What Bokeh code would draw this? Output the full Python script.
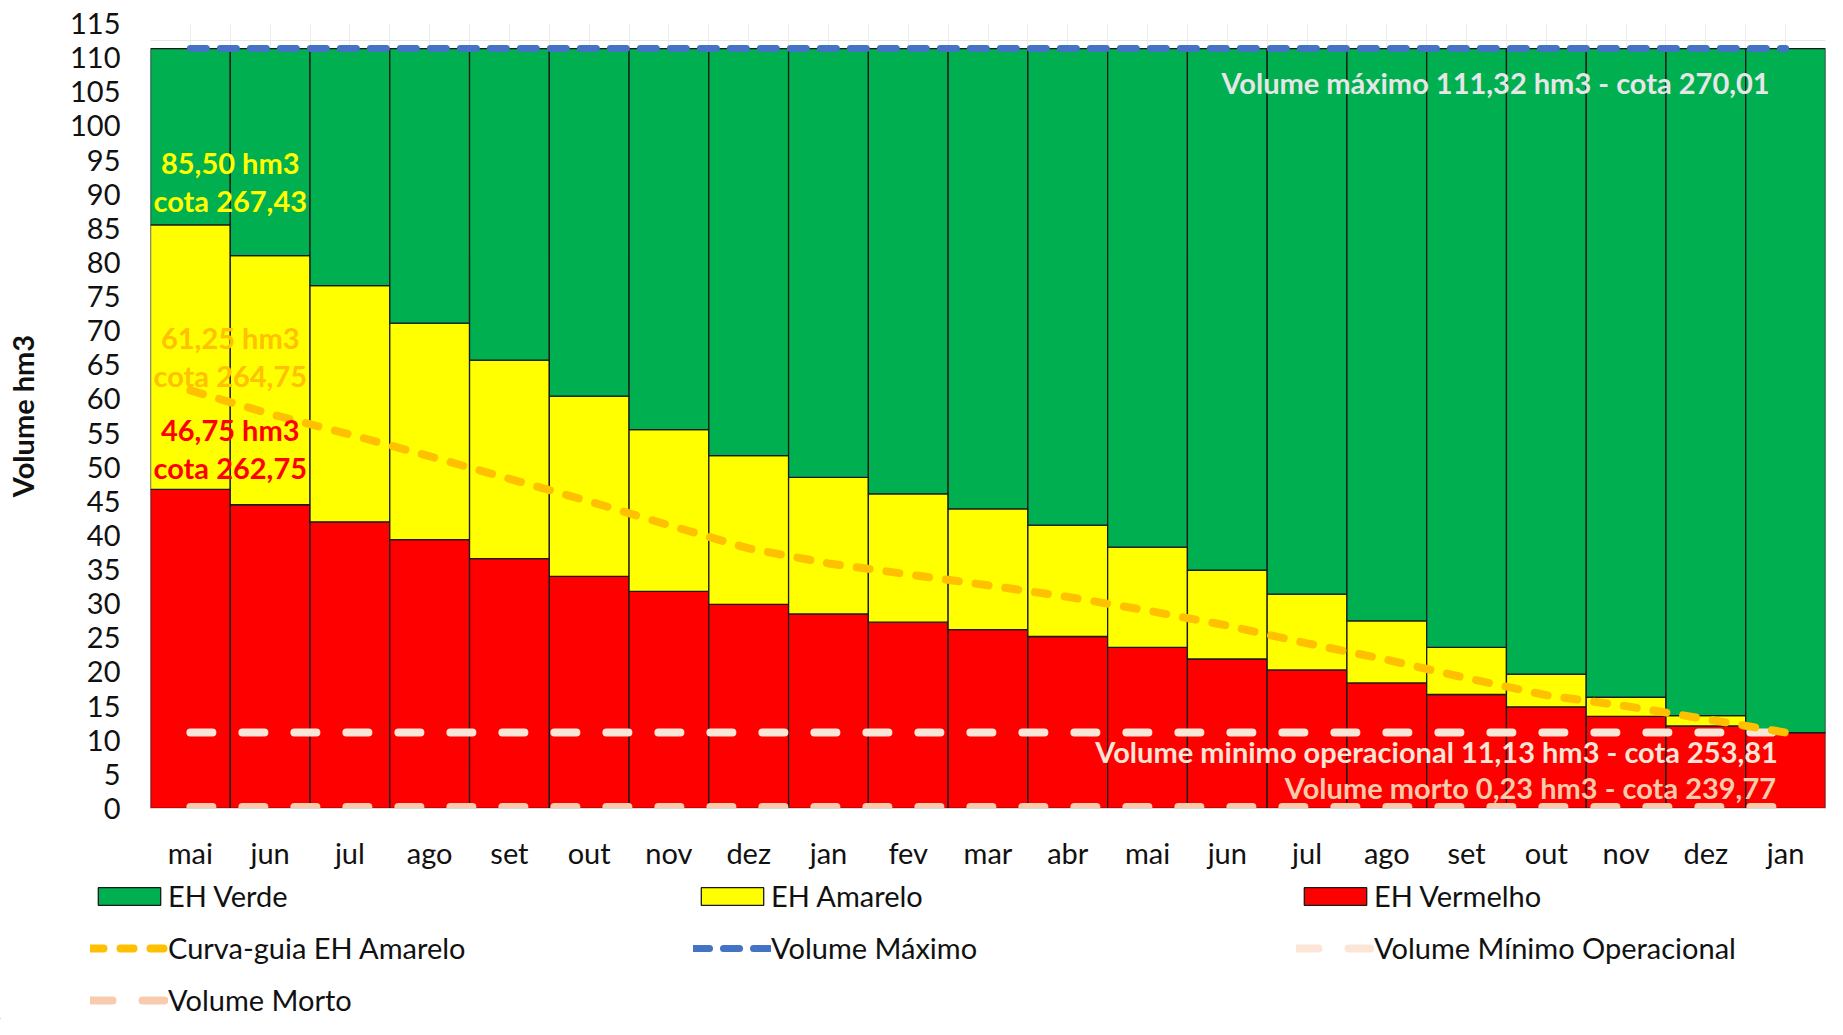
import numpy as np
from bokeh.plotting import figure
from bokeh.models import (ColumnDataSource, Range1d, FixedTicker, SingleIntervalTicker,
                          Legend, LegendItem, Label)
from bokeh.embed import file_html
from bokeh.resources import INLINE

# ---------------- data ----------------
months = ["mai", "jun", "jul", "ago", "set", "out", "nov", "dez", "jan", "fev", "mar",
          "abr", "mai", "jun", "jul", "ago", "set", "out", "nov", "dez", "jan"]
red_top = [46.75, 44.5, 42.0, 39.4, 36.6, 34.0, 31.8, 29.9, 28.5, 27.3, 26.2,
           25.2, 23.6, 21.9, 20.3, 18.4, 16.7, 14.9, 13.5, 12.1, 11.13]
yellow_top = [85.5, 81.0, 76.6, 71.1, 65.7, 60.4, 55.5, 51.7, 48.5, 46.1, 43.9,
              41.5, 38.3, 34.9, 31.4, 27.5, 23.6, 19.7, 16.3, 13.6, 11.13]
guide_curve = [61.25, 57.8, 54.8, 51.6, 48.3, 45.0, 41.5, 38.1, 35.9, 34.3, 32.7,
               31.0, 29.0, 26.8, 24.2, 21.8, 19.1, 16.6, 15.0, 13.1, 11.13]
vol_max = 111.32
vol_min_op = 11.13
vol_morto = 0.23
y_ticks_step = 5

n = len(months)
xs = list(range(n))
src = ColumnDataSource(dict(
    x=xs, zero=[0] * n, red=red_top, yellow=yellow_top, green=[vol_max] * n,
    curve=guide_curve, vmax=[vol_max] * n, vmin=[vol_min_op] * n, vmorto=[vol_morto] * n))

FONT = "Lato"
W = 1827
FS = "29px"

# styles
BAR_LINE = dict(line_color="#1a1a1a", line_width=1.3)
STY_RED = dict(fill_color="#FF0000", **BAR_LINE)
STY_YEL = dict(fill_color="#FFFF00", **BAR_LINE)
STY_GRN = dict(fill_color="#00B050", **BAR_LINE)
STY_MIN = dict(line_color="#FBE5D6", line_width=8, line_dash="22 30", line_cap="round")
STY_MORTO = dict(line_color="#F8CBAD", line_width=8, line_dash="22 30", line_cap="round")
STY_MAX = dict(line_color="#4472C4", line_width=7, line_dash="16 14", line_cap="round")
STY_CURVE = dict(line_color="#FFC000", line_width=8, line_dash="13 17", line_cap="round")

p = figure(width=W, height=872, x_range=Range1d(-0.5, n - 0.5), y_range=Range1d(0, 115),
           output_backend="svg", toolbar_location=None,
           min_border_left=150, min_border_right=2, min_border_top=23, min_border_bottom=57)
p.outline_line_color = None
p.background_fill_color = "white"

# grid (only visible above bars)
p.ygrid.ticker = SingleIntervalTicker(interval=2.5)
p.ygrid.grid_line_color = "#E6E6E6"
p.xgrid.ticker = FixedTicker(ticks=list(np.arange(-0.5, n, 0.5)))
p.xgrid.grid_line_color = "#EDEDED"

# bars
r_red = p.vbar(x="x", width=1.0, bottom="zero", top="red", source=src, **STY_RED)
r_yel = p.vbar(x="x", width=1.0, bottom="red", top="yellow", source=src, **STY_YEL)
r_grn = p.vbar(x="x", width=1.0, bottom="yellow", top="green", source=src, **STY_GRN)

# lines
p.line("x", "vmin", source=src, **STY_MIN)
p.line("x", "vmorto", source=src, **STY_MORTO)
p.line("x", "vmax", source=src, **STY_MAX)
p.line("x", "curve", source=src, **STY_CURVE)

# axes
p.xaxis.ticker = FixedTicker(ticks=xs)
p.xaxis.major_label_overrides = {i: m for i, m in enumerate(months)}
p.xaxis.major_tick_line_color = None
p.xaxis.minor_tick_line_color = None
p.xaxis.axis_line_color = "#D9D9D9"
p.xaxis.major_label_standoff = 20
p.xaxis.major_label_text_font = FONT
p.xaxis.major_label_text_font_size = FS
p.xaxis.major_label_text_color = "#111111"

p.yaxis.ticker = SingleIntervalTicker(interval=y_ticks_step)
p.yaxis.major_tick_line_color = None
p.yaxis.minor_tick_line_color = None
p.yaxis.axis_line_color = None
p.yaxis.major_label_standoff = 24
p.yaxis.major_label_text_font = FONT
p.yaxis.major_label_text_font_size = FS
p.yaxis.major_label_text_color = "#111111"
p.yaxis.axis_label = "Volume hm3"
p.yaxis.axis_label_text_font = FONT
p.yaxis.axis_label_text_font_style = "bold"
p.yaxis.axis_label_text_font_size = "29px"
p.yaxis.axis_label_text_color = "#111111"
p.yaxis.axis_label_standoff = 27

# annotations
def add_label(x, y, text, color, align="center"):
    p.add_layout(Label(x=x, y=y, text=text, text_color=color, text_font=FONT,
                       text_font_size=FS, text_font_style="bold",
                       text_align=align, text_baseline="middle"))

add_label(0.5, 94.7, "85,50 hm3", "#FFFF00")
add_label(0.5, 89.0, "cota 267,43", "#FFFF00")
add_label(0.5, 69.0, "61,25 hm3", "#FFC000")
add_label(0.5, 63.4, "cota 264,75", "#FFC000")
add_label(0.5, 55.5, "46,75 hm3", "#FF0000")
add_label(0.5, 49.9, "cota 262,75", "#FF0000")
add_label(19.8, 106.3, "Volume máximo 111,32 hm3 - cota 270,01", "#E7E6E6", "right")
add_label(20.08, 8.4, "Volume minimo  operacional  11,13 hm3 - cota 253,81", "#FBE5D6", "right")
add_label(19.88, 3.1, "Volume morto 0,23 hm3 - cota 239,77", "#F8CBAD", "right")

# ---------------- legend (separate strip below the chart) ----------------
LH = 147
pl = figure(width=W, height=LH, x_range=Range1d(0, 1), y_range=Range1d(0, 1),
            output_backend="svg", toolbar_location=None,
            x_axis_location=None, y_axis_location=None,
            min_border_left=0, min_border_right=0, min_border_top=0, min_border_bottom=0)
pl.outline_line_color = None
pl.xgrid.visible = False
pl.ygrid.visible = False
# sample glyphs for the legend keys (placed outside the visible range)
dummy = ColumnDataSource(dict(x=[-10], y=[-10], top=[-10]))
l_grn = pl.vbar(x="x", top="top", width=1, source=dummy, **STY_GRN)
l_yel = pl.vbar(x="x", top="top", width=1, source=dummy, **STY_YEL)
l_red = pl.vbar(x="x", top="top", width=1, source=dummy, **STY_RED)
l_curve = pl.line(x="x", y="y", source=dummy, **STY_CURVE)
l_max = pl.line(x="x", y="y", source=dummy, **STY_MAX)
l_min = pl.line(x="x", y="y", source=dummy, **STY_MIN)
l_morto = pl.line(x="x", y="y", source=dummy, **STY_MORTO)

legend = Legend(items=[
    LegendItem(label="EH Verde", renderers=[l_grn]),
    LegendItem(label="EH Amarelo", renderers=[l_yel]),
    LegendItem(label="EH Vermelho", renderers=[l_red]),
    LegendItem(label="Curva-guia EH Amarelo", renderers=[l_curve]),
    LegendItem(label="Volume Máximo", renderers=[l_max]),
    LegendItem(label="Volume Mínimo Operacional", renderers=[l_min]),
    LegendItem(label="Volume Morto", renderers=[l_morto]),
], orientation="horizontal", ncols=3, location=(90, 2))
legend.background_fill_alpha = 0
legend.border_line_color = None
legend.padding = 0
legend.margin = 0
legend.spacing = 17
legend.glyph_width = 78
legend.glyph_height = 22
legend.label_width = 508
legend.label_height = 32
legend.label_standoff = 0
legend.label_text_font = FONT
legend.label_text_font_size = FS
legend.label_text_color = "#111111"
pl.add_layout(legend, "center")

open("out.html", "w").write(file_html([p, pl], INLINE))
